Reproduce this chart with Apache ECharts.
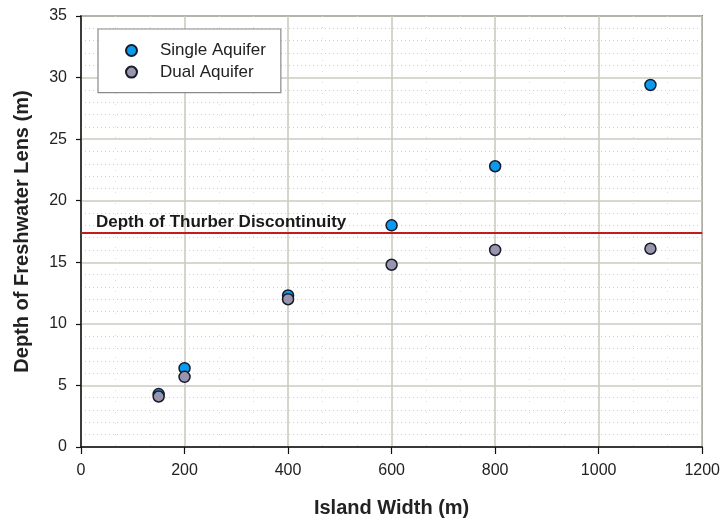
<!DOCTYPE html>
<html>
<head>
<meta charset="utf-8">
<script src="https://cdn.jsdelivr.net/npm/echarts@6/dist/echarts.min.js"></script>
<style>
  html, body { margin: 0; padding: 0; background: #fff; }
  #chart { width: 723px; height: 523px; }
</style>
</head>
<body>
<div id="chart"></div>
<script>
// Island width (m) and freshwater lens depth (m) for each aquifer model
const islandWidth = [150, 200, 400, 600, 800, 1100];
const singleAquifer = [4.3, 6.4, 12.3, 18.0, 22.8, 29.4];
const dualAquifer = [4.1, 5.7, 12.0, 14.8, 16.0, 16.1];
const thurberDepth = 17.4;
const thurberLabel = 'Depth of Thurber Discontinuity';

const FONT = '"Liberation Sans", Arial, sans-serif';

function pairs(xs, ys) {
  return xs.map((x, i) => [x, ys[i]]);
}

const chart = echarts.init(document.getElementById('chart'), null, { renderer: 'canvas' });

chart.setOption({
  animation: false,
  backgroundColor: '#ffffff',
  textStyle: { fontFamily: FONT },
  grid: {
    left: 81, top: 16, width: 622, height: 432,
    show: true, borderColor: '#444', borderWidth: 1.5, backgroundColor: 'transparent'
  },
  legend: {
    left: 98, top: 29,
    orient: 'vertical',
    padding: [13, 15, 12, 27],
    itemGap: 4.6,
    itemWidth: 11, itemHeight: 11,
    backgroundColor: '#fff',
    borderColor: '#8a8a8a', borderWidth: 1.2,
    textStyle: {
      fontFamily: FONT, fontSize: 17, lineHeight: 17, color: '#222',
      padding: [0, 0, 0, 18]
    },
    data: [
      { name: 'Single Aquifer', icon: 'circle' },
      { name: 'Dual Aquifer', icon: 'circle' }
    ]
  },
  xAxis: {
    type: 'value',
    min: 0, max: 1200, interval: 200,
    name: 'Island Width (m)',
    nameLocation: 'middle', nameGap: 51,
    nameTextStyle: { fontFamily: FONT, fontSize: 20, fontWeight: 'bold', color: '#222' },
    axisLine: { show: true, lineStyle: { color: '#111', width: 1.5 } },
    axisTick: { show: true, length: 7, lineStyle: { color: '#111', width: 1.2 } },
    axisLabel: {
      fontFamily: FONT, fontSize: 16, color: '#222', margin: 16,
      formatter: (v) => String(v)
    },
    splitLine: { show: true, lineStyle: { color: '#cbcbc0', width: 1.6 } },
    minorTick: { show: false, splitNumber: 3 },
    minorSplitLine: { show: true, lineStyle: { color: '#dcdcd0', width: 1, type: [1, 10] } }
  },
  yAxis: {
    type: 'value',
    min: 0, max: 35, interval: 5,
    name: 'Depth of Freshwater Lens (m)',
    nameLocation: 'middle', nameGap: 49, nameRotate: 90,
    nameTextStyle: { fontFamily: FONT, fontSize: 20, fontWeight: 'bold', color: '#222' },
    axisLine: { show: true, lineStyle: { color: '#111', width: 1.5 } },
    axisTick: { show: true, length: 5, lineStyle: { color: '#111', width: 1.2 } },
    axisLabel: {
      fontFamily: FONT, fontSize: 16, color: '#222', margin: 14,
      formatter: (v) => String(v)
    },
    splitLine: { show: true, lineStyle: { color: '#cbcbc0', width: 1.6 } },
    minorTick: { show: false, splitNumber: 5 },
    minorSplitLine: { show: true, lineStyle: { color: '#d0d0c2', width: 1, type: [1, 3] } }
  },
  series: [
    {
      name: 'Single Aquifer',
      type: 'scatter',
      symbol: 'circle',
      symbolSize: 11,
      itemStyle: { color: '#0a9af0', borderColor: '#1a1a28', borderWidth: 1.5, opacity: 1 },
      data: pairs(islandWidth, singleAquifer),
      markLine: {
        silent: true,
        symbol: 'none',
        animation: false,
        lineStyle: { color: '#c41a1a', width: 2, type: 'solid' },
        label: {
          show: true,
          position: 'insideStartTop',
          distance: [15, 2],
          formatter: thurberLabel,
          fontFamily: FONT, fontSize: 17, fontWeight: 'bold', color: '#1a1a1a'
        },
        data: [{ yAxis: thurberDepth }]
      },
      z: 3
    },
    {
      name: 'Dual Aquifer',
      type: 'scatter',
      symbol: 'circle',
      symbolSize: 11,
      itemStyle: { color: '#9896ae', borderColor: '#1a1a28', borderWidth: 1.5, opacity: 1 },
      data: pairs(islandWidth, dualAquifer),
      z: 4
    }
  ]
});
</script>
</body>
</html>
